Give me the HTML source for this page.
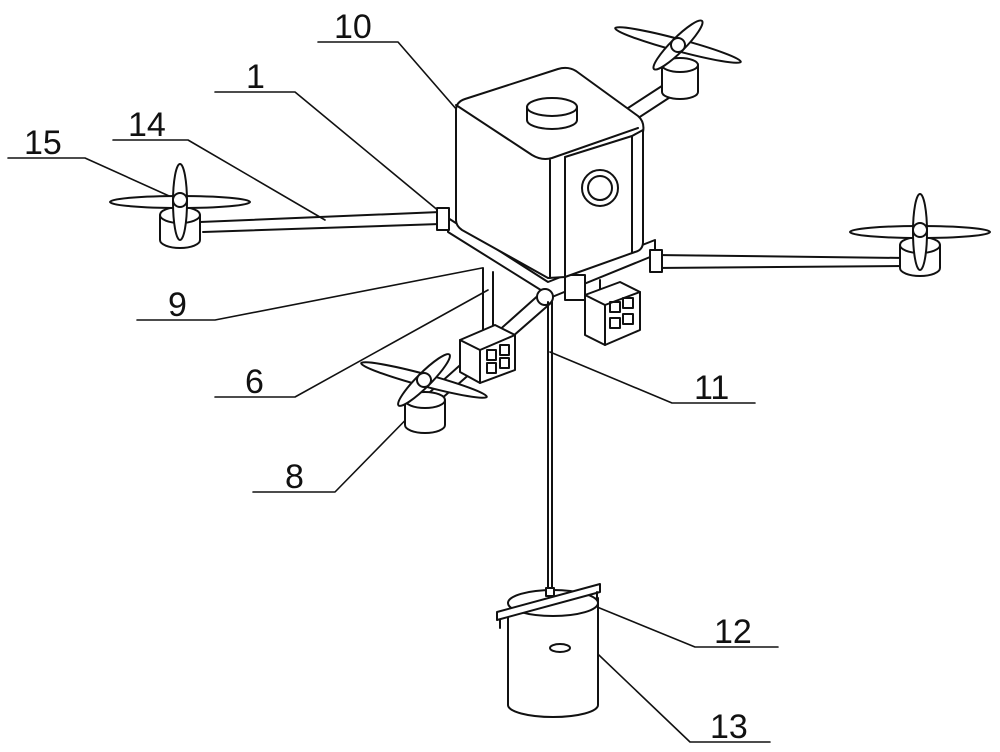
<!DOCTYPE html>
<html><head><meta charset="utf-8"><style>
html,body{margin:0;padding:0;background:#fff;}
svg{display:block}
text{font-family:"Liberation Sans",sans-serif;font-size:34px;fill:#111}
</style></head><body>
<svg width="1000" height="752" viewBox="0 0 1000 752" xmlns="http://www.w3.org/2000/svg">
<g fill="none" stroke="#111" stroke-width="2" stroke-linejoin="round" stroke-linecap="round">
<g stroke-width="1.6">
<polyline points="318,42 398,42 490,148"/>
<polyline points="215,92 295,92 440,212"/>
<polyline points="113,140 188,140 325,220"/>
<polyline points="8,158 85,158 178,200"/>
<polyline points="137,320 215,320 482,268"/>
<polyline points="215,397 295,397 488,290"/>
<polyline points="550,352 672,403 755,403"/>
<polyline points="253,492 335,492 430,395"/>
<polyline points="575,598 695,647 778,647"/>
<polyline points="580,637 690,742 770,742"/>
</g>
<!-- arms -->
<path d="M200,222 L440,212 M203,232 L440,224"/>
<path d="M655,255 L905,258 M655,268 L905,266"/>
<path d="M625,110 L668,82 M632,122 L678,92"/>
<path d="M430,392 L542,292 M440,400 L552,302"/>
<!-- base plate -->
<path d="M448,218 L548,282 L655,240 L655,255 L552,297 L448,232 Z" fill="#fff"/>
<rect x="437" y="208" width="12" height="22" fill="#fff"/>
<rect x="650" y="250" width="12" height="22" fill="#fff"/>
<rect x="565" y="275" width="20" height="25" fill="#fff"/>
<!-- box -->
<path d="M456,110 Q456,102 465,99 L558,69 Q568,66 576,71 L638,116 Q645,122 643,132 L643,242 Q643,250 635,252 L565,277 L548,278 L462,230 Q456,226 456,220 Z" fill="#fff"/>
<path d="M456,105 L532,155 Q542,161 552,158 L638,128"/>
<path d="M550,160 L550,278 M565,157 L565,277"/>
<path d="M565,157 L632,136 L632,252 M632,136 L643,130"/>
<circle cx="600" cy="188" r="18"/><circle cx="600" cy="188" r="12"/>
<!-- cap -->
<path d="M527,107 L527,120 A25,9 0 0 0 577,120 L577,107" fill="#fff"/>
<ellipse cx="552" cy="107" rx="25" ry="9" fill="#fff"/>
<!-- hub -->
<circle cx="545" cy="297" r="8" fill="#fff"/>
<path d="M483,268 L483,330 M493,272 L493,330 M600,280 L600,300"/>
<!-- cameras -->
<path d="M585,295 L620,282 L640,292 L640,330 L605,345 L585,335 Z" fill="#fff"/>
<path d="M585,295 L605,305 L640,292 M605,305 L605,345"/>
<rect x="610" y="302" width="10" height="10"/><rect x="623" y="298" width="10" height="10"/>
<rect x="610" y="318" width="10" height="10"/><rect x="623" y="314" width="10" height="10"/>
<path d="M460,340 L495,325 L515,335 L515,370 L480,383 L460,372 Z" fill="#fff"/>
<path d="M460,340 L480,350 L515,335 M480,350 L480,383"/>
<rect x="487" y="350" width="9" height="10"/><rect x="500" y="345" width="9" height="10"/>
<rect x="487" y="363" width="9" height="10"/><rect x="500" y="358" width="9" height="10"/>
<!-- rope -->
<path d="M548,302 L548,590 M552,302 L552,590"/>
<!-- bucket -->
<path d="M508,612 L508,705 A45,12 0 0 0 598,705 L598,598" fill="#fff"/>
<ellipse cx="553" cy="603" rx="45" ry="13" fill="#fff"/>
<path d="M497,612 L600,584 L600,592 L497,620 Z" fill="#fff"/>
<path d="M500,620 L500,628 M597,592 L597,600"/>
<rect x="546" y="588" width="8" height="8" fill="#fff"/>
<ellipse cx="560" cy="648" rx="10" ry="4"/>
<!-- rotors -->
<g>
<path d="M160,215 L160,240 A20,8 0 0 0 200,240 L200,215" fill="#fff"/>
<ellipse cx="180" cy="215" rx="20" ry="8" fill="#fff"/>
<ellipse cx="180" cy="202" rx="70" ry="6" fill="#fff"/>
<ellipse cx="180" cy="202" rx="7" ry="38" fill="#fff"/>
<circle cx="180" cy="200" r="7" fill="#fff"/>
</g>
<g>
<path d="M900,245 L900,268 A20,8 0 0 0 940,268 L940,245" fill="#fff"/>
<ellipse cx="920" cy="245" rx="20" ry="8" fill="#fff"/>
<ellipse cx="920" cy="232" rx="70" ry="6" fill="#fff"/>
<ellipse cx="920" cy="232" rx="7" ry="38" fill="#fff"/>
<circle cx="920" cy="230" r="7" fill="#fff"/>
</g>
<g>
<path d="M662,65 L662,92 A18,7 0 0 0 698,92 L698,65" fill="#fff"/>
<ellipse cx="680" cy="65" rx="18" ry="7" fill="#fff"/>
<ellipse cx="678" cy="45" rx="65" ry="6" transform="rotate(15 678 45)" fill="#fff"/>
<ellipse cx="678" cy="45" rx="7" ry="34" transform="rotate(45 678 45)" fill="#fff"/>
<circle cx="678" cy="45" r="7" fill="#fff"/>
</g>
<g>
<path d="M405,400 L405,425 A20,8 0 0 0 445,425 L445,400" fill="#fff"/>
<ellipse cx="425" cy="400" rx="20" ry="8" fill="#fff"/>
<ellipse cx="424" cy="380" rx="65" ry="6" transform="rotate(15 424 380)" fill="#fff"/>
<ellipse cx="424" cy="380" rx="7" ry="36" transform="rotate(45 424 380)" fill="#fff"/>
<circle cx="424" cy="380" r="7" fill="#fff"/>
</g>
</g>
<text x="334" y="38">10</text>
<text x="246" y="88">1</text>
<text x="128" y="136">14</text>
<text x="24" y="154">15</text>
<text x="168" y="316">9</text>
<text x="245" y="393">6</text>
<text x="694" y="399">11</text>
<text x="285" y="488">8</text>
<text x="714" y="643">12</text>
<text x="710" y="738">13</text>
</svg>
</body></html>
